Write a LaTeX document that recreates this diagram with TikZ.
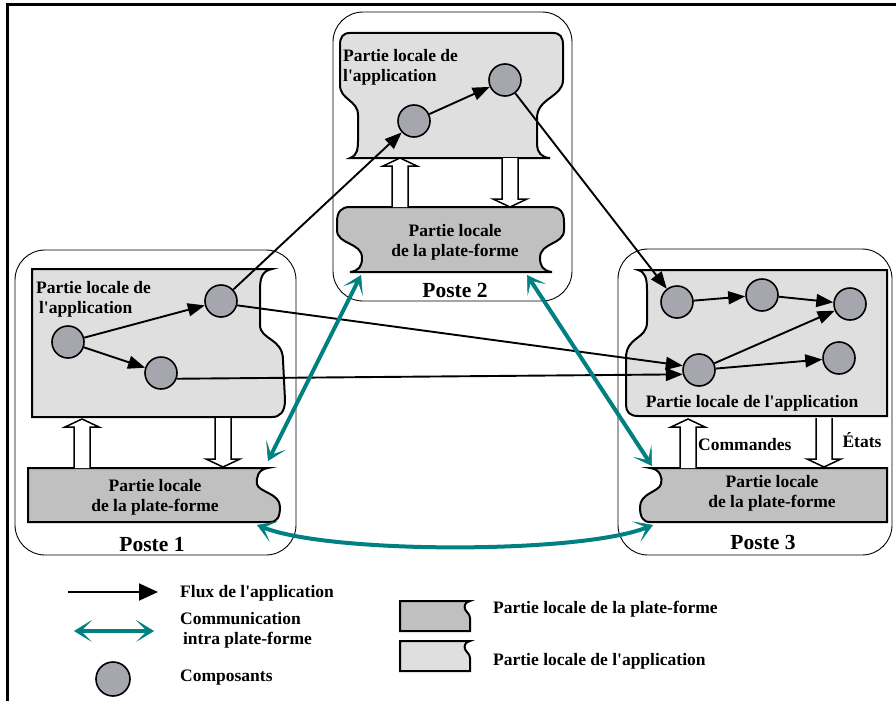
\documentclass[tikz,border=0pt]{standalone}
\usepackage{fontspec}
\setmainfont{Liberation Serif}
\usetikzlibrary{arrows.meta}
\definecolor{sarcelle}{RGB}{0,128,128}
\definecolor{grisappli}{RGB}{223,223,223}
\definecolor{grisplate}{RGB}{192,192,192}
\definecolor{griscomp}{RGB}{166,166,174}
\begin{document}
\begin{tikzpicture}[x=1pt,y=-1pt]
	\tikzstyle{poste}=[draw=black,line width=0.9pt,rounded corners=30pt]
	\tikzstyle{appli}=[draw=black,line width=2pt,fill=grisappli]
	\tikzstyle{plateforme}=[draw=black,line width=2pt,fill=grisplate]
	\tikzstyle{composant}=[circle,draw=black,line width=1.6pt,fill=griscomp,minimum size=32pt,inner sep=0pt]
	\tikzstyle{flux}=[line width=1.9pt,-{Triangle[length=17pt,width=13pt]}]
	\tikzstyle{intra}=[draw=sarcelle,line width=4pt,{Stealth[length=18pt,width=22pt,inset=11pt,line width=0.5pt]}-{Stealth[length=18pt,width=22pt,inset=11pt,line width=0.5pt]}]
	\tikzstyle{etiq}=[font=\fontsize{17.5}{20}\selectfont\bfseries,inner sep=0pt]
	\tikzstyle{titre}=[font=\fontsize{21.5}{24}\selectfont\bfseries,inner sep=0pt]
	\tikzset{fleche/.pic={\draw[line width=1.5pt,fill=white] (-8,0) -- (-8,-41) -- (-17,-41) -- (0,-49) -- (17,-41) -- (8,-41) -- (8,0);}}
	\useasboundingbox (0,0) rectangle (896,701);
	\draw[line width=3pt] (896,5) -- (7,5) -- (7,701);

	\draw[poste] (15,250) rectangle (296,555);
	\draw[poste] (333,12) rectangle (572,301);
	\draw[poste] (618,249) rectangle (892,555);

	% poste 1
	\path[appli] (32,269) -- (272,269) .. controls (262,271) and (260,278) .. (260,290) -- (260,325) .. controls (260,340) and (283,338) .. (283,360) -- (285,400) .. controls (285,412) and (280,417) .. (272,417) -- (32,417) -- cycle;
	\path[plateforme] (28,468) -- (268,468) .. controls (258,469) and (256,478) .. (257,484) .. controls (258,492) and (280,493) .. (280,507) .. controls (280,517) and (277,522) .. (270,522) -- (28,522) -- cycle;
	% poste 2
	\path[appli] (350,158) .. controls (358,155) and (358,148) .. (358,140) -- (358,115) .. controls (358,100) and (340,100) .. (340,85) -- (340,45) .. controls (340,37) and (343,33) .. (350,33) -- (553,33) .. controls (560,33) and (563,37) .. (563,45) -- (563,80) .. controls (563,97) and (537,98) .. (537,118) -- (537,145) .. controls (537,152) and (542,158) .. (550,158) -- cycle;
	\path[plateforme] (350,207) -- (550,207) .. controls (560,207) and (564,212) .. (564,222) -- (564,230) .. controls (564,245) and (540,242) .. (540,258) .. controls (540,266) and (543,271) .. (552,272) -- (350,272) .. controls (359,271) and (362,266) .. (362,258) .. controls (362,242) and (337,245) .. (337,230) -- (337,222) .. controls (337,212) and (341,207) .. (350,207) -- cycle;
	% poste 3
	\path[appli] (887,270) -- (638,270) .. controls (645,272) and (647,278) .. (647,290) -- (647,322) .. controls (647,340) and (626,336) .. (626,358) -- (626,405) .. controls (626,412) and (630,416) .. (638,416) -- (887,416) -- cycle;
	\path[plateforme] (887,468) -- (650,468) .. controls (660,469) and (663,478) .. (661,484) .. controls (659,492) and (640,493) .. (640,507) .. controls (640,517) and (643,522) .. (650,522) -- (887,522) -- cycle;

	\pic at (82,468) {fleche};
	\pic[rotate=180] at (223,418) {fleche};
	\pic at (400,207) {fleche};
	\pic[rotate=180] at (510,158) {fleche};
	\pic at (688,468) {fleche};
	\pic[rotate=180] at (824,418) {fleche};

	\node[composant] (a1) at (68,342) {};
	\node[composant] (a2) at (221,301) {};
	\node[composant] (a3) at (161,373) {};
	\node[composant] (m1) at (414,121) {};
	\node[composant] (m2) at (505,80) {};
	\node[composant] (b1) at (677,302) {};
	\node[composant] (b2) at (762,295) {};
	\node[composant] (b3) at (850,304) {};
	\node[composant] (b4) at (699,370) {};
	\node[composant] (b5) at (839,358) {};

	\draw[flux] (a1) -- (a2);
	\draw[flux] (a1) -- (a3);
	\draw[flux] (a2) -- (m1);
	\draw[flux] (m1) -- (m2);
	\draw[flux] (m2) -- (b1);
	\draw[flux] (a2.-15) -- (b4.165);
	\draw[flux] (a3.-20) -- (b4.195);
	\draw[flux] (b1) -- (b2);
	\draw[flux] (b2) -- (b3);
	\draw[flux] (b4) -- (b3);
	\draw[flux] (b4) -- (b5);

	\coordinate (q1) at (268,461);
	\coordinate (q2) at (361,275);
	\coordinate (q3) at (527,275);
	\coordinate (q4) at (652,466);
	\coordinate (q5) at (257,525);
	\coordinate (q6) at (653,525);
	\draw[intra] (q1) -- (q2);
	\draw[intra] (q3) -- (q4);
	\draw[intra] (q5) .. controls (330,554) and (580,554) .. (q6);

	\node[etiq,anchor=west,align=left] (t1) at (36,299) {Partie locale de\\\,l\textquotesingle application};
	\node[etiq,align=center] (t2) at (155,497) {Partie locale\\de la plate-forme};
	\node[titre] (t3) at (152,545) {Poste 1};
	\node[etiq,anchor=west,align=left] (t4) at (343,67) {Partie locale de\\l\textquotesingle application};
	\node[etiq,align=center] (t5) at (455,242) {Partie locale\\de la plate-forme};
	\node[titre] (t6) at (455,290) {Poste 2};
	\node[etiq] (t7) at (752,403) {Partie locale de l\textquotesingle application};
	\node[etiq,align=center] (t8) at (772,493) {Partie locale\\de la plate-forme};
	\node[titre] (t9) at (763,542) {Poste 3};
	\node[etiq,anchor=west] (t10) at (698,445) {Commandes};
	\node[etiq] (t11) at (862,440) {États};

	% legende
	\coordinate (l1a) at (68,592);
	\coordinate (l1b) at (158,592);
	\draw[flux,-{Triangle[length=19pt,width=17pt]}] (l1a) -- (l1b);
	\coordinate (l2a) at (74,631);
	\coordinate (l2b) at (154,631);
	\draw[intra] (l2a) -- (l2b);
	\node[composant,minimum size=34pt] (l3) at (113,679) {};
	\path[plateforme] (400,601) -- (470,601) .. controls (465,602) and (464,606) .. (465,609) .. controls (466,612) and (470,614) .. (470,618) -- (470,631) -- (400,631) -- cycle;
	\path[appli] (400,641) -- (470,641) .. controls (465,642) and (464,646) .. (465,649) .. controls (466,652) and (470,654) .. (470,658) -- (470,671) -- (400,671) -- cycle;
	\node[etiq,anchor=west] (t12) at (180,593) {Flux de l\textquotesingle application};
	\node[etiq,anchor=west,align=left] (t13) at (180,630) {Communication\\\,intra plate-forme};
	\node[etiq,anchor=west] (t14) at (180,678) {Composants};
	\node[etiq,anchor=west] (t15) at (493,609) {Partie locale de la plate-forme};
	\node[etiq,anchor=west] (t16) at (493,661) {Partie locale de l\textquotesingle application};
\end{tikzpicture}
\end{document}
